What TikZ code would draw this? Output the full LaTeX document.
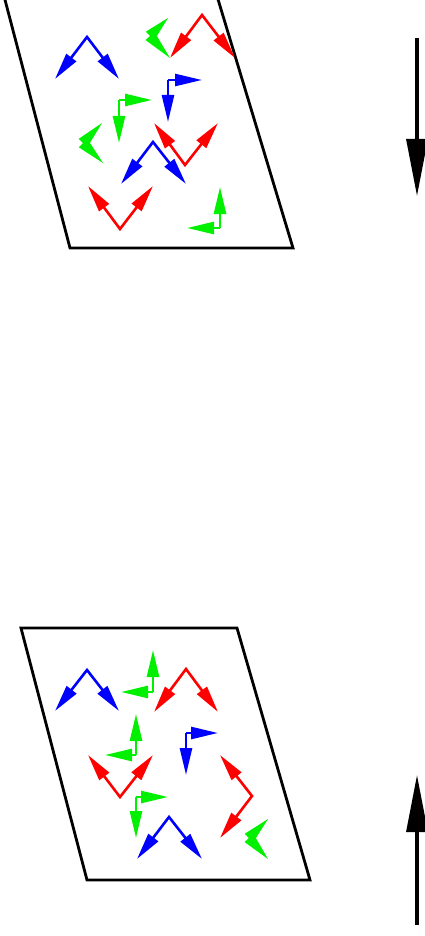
\documentclass[tikz,border=0pt]{standalone}
\usetikzlibrary{arrows.meta,calc}
\definecolor{sblue}{RGB}{0,0,255}
\definecolor{sred}{RGB}{255,0,0}
\definecolor{sgreen}{RGB}{0,240,0}
\tikzset{
  spinhead/.tip={Triangle[length=27pt,width=12pt]},
  spin/.style={line width=2.6pt,-{spinhead}},
  pair/.style={line width=2.6pt,{spinhead}-{spinhead},line join=miter},
  frame/.style={line width=2.8pt,black,line join=miter},
  field/.style={line width=3.2pt,black,-{Triangle[length=57pt,width=21pt]}}
}
\newcommand{\flatpair}[4]{% colour, vertex, tipA, tipB
  \fill[#1] ($(#2)!6pt!90:(#3)$) -- (#3) -- ($(#2)!6pt!-90:(#3)$) -- cycle;
  \fill[#1] ($(#2)!6pt!90:(#4)$) -- (#4) -- ($(#2)!6pt!-90:(#4)$) -- cycle;
}
\begin{document}
\begin{tikzpicture}[x=1pt,y=-1pt]
\useasboundingbox (0,0) rectangle (425,936);
\clip (0,0) rectangle (425,936);
\fill[white] (0,0) rectangle (425,936);

% ---------- upper panel ----------
\draw[frame] (4,-4) -- (70,248) -- (293,248) -- (217,-4) -- cycle;

\draw[pair,sblue] (55,79) -- (87,37) -- (119,79);
\coordinate (ga) at (150,36); \coordinate (gat) at (168,18); \coordinate (gab) at (170,58);
\flatpair{sgreen}{ga}{gat}{gab}
\draw[pair,sred] (170,58) -- (202,15) -- (235,58);
\coordinate (bl1) at (168,80);
\draw[spin,sblue] (bl1) -- (202,80);
\draw[spin,sblue] (bl1) -- (168,122);
\coordinate (gl1) at (119,100);
\draw[spin,sgreen] (gl1) -- (152,100);
\draw[spin,sgreen] (gl1) -- (119,143);
\coordinate (gb) at (83,143); \coordinate (gbt) at (102,123); \coordinate (gbb) at (103,163);
\flatpair{sgreen}{gb}{gbt}{gbb}
\draw[pair,sred] (154,123) -- (185,165) -- (218,123);
\draw[pair,sblue] (121,184) -- (153,142) -- (186,184);
\draw[pair,sred] (88,186) -- (120,229) -- (153,186);
\coordinate (gl2) at (220,228);
\draw[spin,sgreen] (gl2) -- (220,187);
\draw[spin,sgreen] (gl2) -- (187,228);

\coordinate (fa) at (417,38); \coordinate (fb) at (417,196);
\draw[field] (fa) -- (fb);

% ---------- lower panel ----------
\draw[frame] (21,628) -- (237,628) -- (310,880) -- (87,880) -- cycle;

\draw[pair,sblue] (55,711) -- (87,670) -- (119,711);
\coordinate (gl3) at (153,692);
\draw[spin,sgreen] (gl3) -- (153,650);
\draw[spin,sgreen] (gl3) -- (121,692);
\draw[pair,sred] (154,712) -- (186,669) -- (218,712);
\coordinate (gl4) at (136,755);
\draw[spin,sgreen] (gl4) -- (136,714);
\draw[spin,sgreen] (gl4) -- (105,755);
\coordinate (bl2) at (186,733);
\draw[spin,sblue] (bl2) -- (218,733);
\draw[spin,sblue] (bl2) -- (186,775);
\draw[pair,sred] (88,755) -- (120,797) -- (153,755);
\draw[pair,sred] (220,755) -- (252,796) -- (220,838);
\coordinate (gl5) at (136,797);
\draw[spin,sgreen] (gl5) -- (168,797);
\draw[spin,sgreen] (gl5) -- (136,838);
\draw[pair,sblue] (137,859) -- (169,817) -- (202,859);
\coordinate (gc) at (249,838); \coordinate (gct) at (268,819); \coordinate (gcb) at (268,859);
\flatpair{sgreen}{gc}{gct}{gcb}

\coordinate (fc) at (417,925); \coordinate (fd) at (417,775);
\draw[field] (fc) -- (fd);
\end{tikzpicture}
\end{document}
